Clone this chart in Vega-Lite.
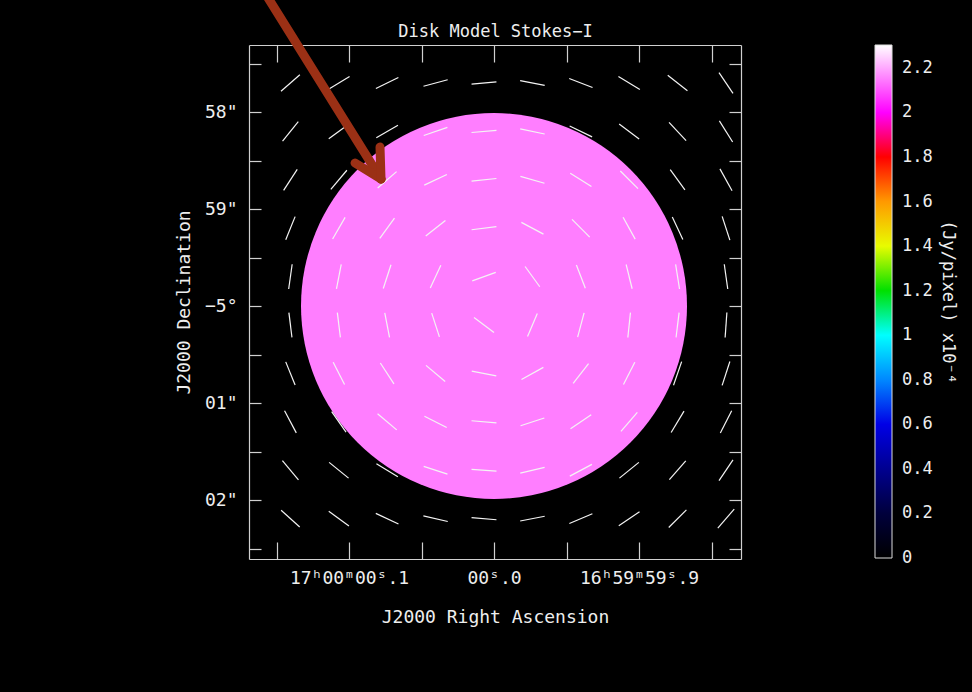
{
  "$schema": "https://vega.github.io/schema/vega-lite/v6.json",
  "width": 492,
  "height": 514,
  "autosize": {"type": "none"},
  "padding": {"left": 249, "top": 45, "right": 231, "bottom": 133},
  "background": "#000000",
  "datasets": {
    "disk": [{"ra": 0, "dec": 0, "flux": 2.15}],
    "vectors": [
      {"ra": 0.1404, "dec": 2.299, "ang": -41}, {"ra": 0.1070, "dec": 2.299, "ang": -31}, {"ra": 0.0737, "dec": 2.299, "ang": -26}, {"ra": 0.0403, "dec": 2.299, "ang": -15}, {"ra": 0.0069, "dec": 2.299, "ang": -5},
      {"ra": -0.0265, "dec": 2.299, "ang": 11}, {"ra": -0.0599, "dec": 2.299, "ang": 21}, {"ra": -0.0932, "dec": 2.299, "ang": 31}, {"ra": -0.1266, "dec": 2.299, "ang": 38}, {"ra": -0.1600, "dec": 2.299, "ang": 56},
      {"ra": 0.1404, "dec": 1.800, "ang": -51}, {"ra": 0.1070, "dec": 1.800, "ang": -36}, {"ra": 0.0737, "dec": 1.800, "ang": -30}, {"ra": 0.0403, "dec": 1.800, "ang": -19}, {"ra": 0.0069, "dec": 1.800, "ang": -5},
      {"ra": -0.0265, "dec": 1.800, "ang": 12}, {"ra": -0.0599, "dec": 1.800, "ang": 26}, {"ra": -0.0932, "dec": 1.800, "ang": 37}, {"ra": -0.1266, "dec": 1.800, "ang": 47}, {"ra": -0.1600, "dec": 1.800, "ang": 58},
      {"ra": 0.1404, "dec": 1.301, "ang": -57}, {"ra": 0.1070, "dec": 1.301, "ang": -50}, {"ra": 0.0737, "dec": 1.301, "ang": -41}, {"ra": 0.0403, "dec": 1.301, "ang": -25}, {"ra": 0.0069, "dec": 1.301, "ang": -6},
      {"ra": -0.0265, "dec": 1.301, "ang": 16}, {"ra": -0.0599, "dec": 1.301, "ang": 32}, {"ra": -0.0932, "dec": 1.301, "ang": 45}, {"ra": -0.1266, "dec": 1.301, "ang": 54}, {"ra": -0.1600, "dec": 1.301, "ang": 61},
      {"ra": 0.1404, "dec": 0.802, "ang": -68}, {"ra": 0.1070, "dec": 0.802, "ang": -60}, {"ra": 0.0737, "dec": 0.802, "ang": -54}, {"ra": 0.0403, "dec": 0.802, "ang": -38}, {"ra": 0.0069, "dec": 0.802, "ang": -7},
      {"ra": -0.0265, "dec": 0.802, "ang": 28}, {"ra": -0.0599, "dec": 0.802, "ang": 45}, {"ra": -0.0932, "dec": 0.802, "ang": 61}, {"ra": -0.1266, "dec": 0.802, "ang": 65}, {"ra": -0.1600, "dec": 0.802, "ang": 72},
      {"ra": 0.1404, "dec": 0.303, "ang": -82}, {"ra": 0.1070, "dec": 0.303, "ang": -79}, {"ra": 0.0737, "dec": 0.303, "ang": -72}, {"ra": 0.0403, "dec": 0.303, "ang": -65}, {"ra": 0.0069, "dec": 0.303, "ang": -20},
      {"ra": -0.0265, "dec": 0.303, "ang": 54}, {"ra": -0.0599, "dec": 0.303, "ang": 69}, {"ra": -0.0932, "dec": 0.303, "ang": 76}, {"ra": -0.1266, "dec": 0.303, "ang": 81}, {"ra": -0.1600, "dec": 0.303, "ang": 82},
      {"ra": 0.1404, "dec": -0.196, "ang": 83}, {"ra": 0.1070, "dec": -0.196, "ang": 83}, {"ra": 0.0737, "dec": -0.196, "ang": 79}, {"ra": 0.0403, "dec": -0.196, "ang": 72}, {"ra": 0.0069, "dec": -0.196, "ang": 37},
      {"ra": -0.0265, "dec": -0.196, "ang": -67}, {"ra": -0.0599, "dec": -0.196, "ang": -75}, {"ra": -0.0932, "dec": -0.196, "ang": -84}, {"ra": -0.1266, "dec": -0.196, "ang": -83}, {"ra": -0.1600, "dec": -0.196, "ang": -86},
      {"ra": 0.1404, "dec": -0.695, "ang": 68}, {"ra": 0.1070, "dec": -0.695, "ang": 63}, {"ra": 0.0737, "dec": -0.695, "ang": 57}, {"ra": 0.0403, "dec": -0.695, "ang": 40}, {"ra": 0.0069, "dec": -0.695, "ang": 11},
      {"ra": -0.0265, "dec": -0.695, "ang": -29}, {"ra": -0.0599, "dec": -0.695, "ang": -52}, {"ra": -0.0932, "dec": -0.695, "ang": -63}, {"ra": -0.1266, "dec": -0.695, "ang": -71}, {"ra": -0.1600, "dec": -0.695, "ang": -72},
      {"ra": 0.1404, "dec": -1.194, "ang": 62}, {"ra": 0.1070, "dec": -1.194, "ang": 55}, {"ra": 0.0737, "dec": -1.194, "ang": 40}, {"ra": 0.0403, "dec": -1.194, "ang": 27}, {"ra": 0.0069, "dec": -1.194, "ang": 5},
      {"ra": -0.0265, "dec": -1.194, "ang": -18}, {"ra": -0.0599, "dec": -1.194, "ang": -34}, {"ra": -0.0932, "dec": -1.194, "ang": -49}, {"ra": -0.1266, "dec": -1.194, "ang": -59}, {"ra": -0.1600, "dec": -1.194, "ang": -63},
      {"ra": 0.1404, "dec": -1.693, "ang": 50}, {"ra": 0.1070, "dec": -1.693, "ang": 39}, {"ra": 0.0737, "dec": -1.693, "ang": 31}, {"ra": 0.0403, "dec": -1.693, "ang": 18}, {"ra": 0.0069, "dec": -1.693, "ang": 4},
      {"ra": -0.0265, "dec": -1.693, "ang": -13}, {"ra": -0.0599, "dec": -1.693, "ang": -28}, {"ra": -0.0932, "dec": -1.693, "ang": -39}, {"ra": -0.1266, "dec": -1.693, "ang": -49}, {"ra": -0.1600, "dec": -1.693, "ang": -56},
      {"ra": 0.1404, "dec": -2.192, "ang": 42}, {"ra": 0.1070, "dec": -2.192, "ang": 36}, {"ra": 0.0737, "dec": -2.192, "ang": 25}, {"ra": 0.0403, "dec": -2.192, "ang": 13}, {"ra": 0.0069, "dec": -2.192, "ang": 5},
      {"ra": -0.0265, "dec": -2.192, "ang": -11}, {"ra": -0.0599, "dec": -2.192, "ang": -23}, {"ra": -0.0932, "dec": -2.192, "ang": -34}, {"ra": -0.1266, "dec": -2.192, "ang": -45}, {"ra": -0.1600, "dec": -2.192, "ang": -49}
    ],
    "arrow": [
      {"part": "shaft", "x1": 0.15793, "y1": 3.2268, "x2": 0.07793, "y2": 1.3093},
      {"part": "left", "x1": 0.09586, "y1": 1.4742, "x2": 0.07793, "y2": 1.3093},
      {"part": "upper", "x1": 0.07862, "y1": 1.6392, "x2": 0.07793, "y2": 1.3093}
    ]
  },
  "layer": [
    {
      "data": {"name": "disk"},
      "mark": {"type": "circle", "size": 148996, "opacity": 1, "strokeWidth": 0},
      "encoding": {
        "x": {"field": "ra", "type": "quantitative",
          "scale": {"domain": [-0.17034, 0.16897], "reverse": true, "nice": false, "zero": false},
          "axis": {"orient": "bottom", "title": "J2000 Right Ascension",
            "values": [-0.15, -0.1, -0.05, 0, 0.05, 0.1, 0.15],
            "labelExpr": "abs(datum.value - 0.1) < 1e-6 ? '17ʰ00ᵐ00ˢ.1' : abs(datum.value) < 1e-6 ? '00ˢ.0' : abs(datum.value + 0.1) < 1e-6 ? '16ʰ59ᵐ59ˢ.9' : ''",
            "tickSize": -17, "labelPadding": 27, "titlePadding": 21}},
        "y": {"field": "dec", "type": "quantitative",
          "scale": {"domain": [-2.608, 2.691], "nice": false, "zero": false},
          "axis": {"orient": "left", "title": "J2000 Declination",
            "values": [-2.5, -2, -1.5, -1, -0.5, 0, 0.5, 1, 1.5, 2, 2.5],
            "labelExpr": "datum.value == 2 ? '58\"' : datum.value == 1 ? '59\"' : datum.value == 0 ? '−5°' : datum.value == -1 ? '01\"' : datum.value == -2 ? '02\"' : ''",
            "tickSize": -12, "labelPadding": 24, "titlePadding": 11}},
        "color": {"field": "flux", "type": "quantitative",
          "scale": {"domain": [-0.0001, 0.2, 0.4, 0.6, 0.8, 1.0, 1.2, 1.42, 1.6, 1.8, 2.0, 2.303],
            "range": ["#000000", "#00003C", "#000090", "#0000E6", "#0088FF", "#00FFFF", "#00E000", "#FFFF00", "#FF9900", "#FF0000", "#FF00FF", "#FFFFFF"],
            "interpolate": "rgb"},
          "legend": {"type": "gradient", "orient": "none", "legendX": 626, "legendY": 0, "direction": "vertical",
            "gradientLength": 513, "gradientThickness": 17, "gradientStrokeColor": "#DDDDDD", "gradientStrokeWidth": 1,
            "values": [0, 0.2, 0.4, 0.6, 0.8, 1, 1.2, 1.4, 1.6, 1.8, 2, 2.2], "format": ".1~f",
            "labelFont": "DejaVu Sans Mono", "labelFontSize": 17, "labelColor": "#EEEEEE", "labelOffset": 10, "labelOverlap": false,
            "labelBaseline": "middle",
            "title": "(Jy/pixel)  x10⁻⁴", "titleOrient": "right", "titleAnchor": "middle", "titleFont": "DejaVu Sans Mono", "titleFontSize": 17,
            "titleFontWeight": "normal", "titleColor": "#EEEEEE", "titlePadding": 6, "padding": 0}}
      }
    },
    {
      "data": {"name": "vectors"},
      "mark": {"type": "point", "shape": "stroke", "filled": false, "size": 625, "color": "#F4F4F4", "strokeWidth": 1.2, "opacity": 1},
      "encoding": {
        "x": {"field": "ra", "type": "quantitative",
          "scale": {"domain": [-0.17034, 0.16897], "reverse": true, "nice": false, "zero": false},
          "axis": {"orient": "top", "title": "Disk Model Stokes−I", "titleFontSize": 17, "titlePadding": 4, "labels": false,
            "values": [-0.15, -0.1, -0.05, 0, 0.05, 0.1, 0.15], "tickSize": -17}},
        "y": {"field": "dec", "type": "quantitative",
          "scale": {"domain": [-2.608, 2.691], "nice": false, "zero": false},
          "axis": {"orient": "right", "title": null, "labels": false,
            "values": [-2.5, -2, -1.5, -1, -0.5, 0, 0.5, 1, 1.5, 2, 2.5], "tickSize": -12}},
        "angle": {"field": "ang", "type": "quantitative", "scale": null}
      }
    },
    {
      "data": {"name": "arrow"},
      "mark": {"type": "rule", "color": "#9B3015", "strokeWidth": 9, "strokeCap": "round", "clip": false},
      "encoding": {
        "x": {"field": "x1", "type": "quantitative", "axis": null},
        "y": {"field": "y1", "type": "quantitative", "axis": null},
        "x2": {"field": "x2"},
        "y2": {"field": "y2"}
      }
    }
  ],
  "resolve": {"axis": {"x": "independent", "y": "independent"}},
  "config": {
    "view": {"stroke": null},
    "axis": {"labelFont": "DejaVu Sans Mono", "labelFontSize": 18, "labelColor": "#EEEEEE",
      "titleFont": "DejaVu Sans Mono", "titleFontSize": 18, "titleFontWeight": "normal", "titleColor": "#EEEEEE",
      "domainColor": "#D0D0D0", "tickColor": "#D0D0D0", "domainWidth": 1.2, "tickWidth": 1.2, "grid": false, "labelOverlap": false, "labelFlush": false}
  }
}
